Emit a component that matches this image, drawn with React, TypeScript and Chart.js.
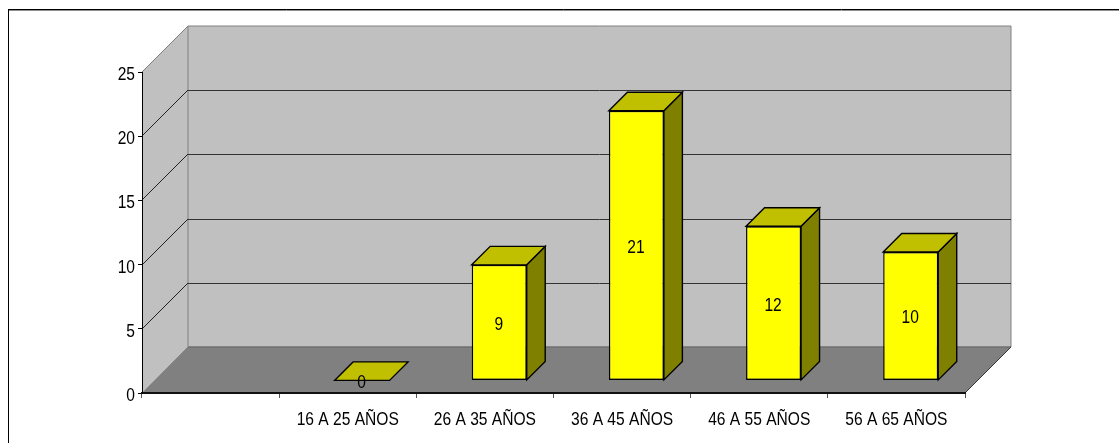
import React, { useEffect, useRef } from "react";
import { Chart, registerables } from "chart.js";

Chart.register(...registerables);

const categories = ["", "16 A 25 AÑOS", "26 A 35 AÑOS", "36 A 45 AÑOS", "46 A 55 AÑOS", "56 A 65 AÑOS"];
const values = [null, 0, 9, 21, 12, 10];
const yTicks = [0, 5, 10, 15, 20, 25];

const FONT = '"Liberation Sans", Arial, sans-serif';
const FONT_SIZE = 19;
const TEXT_SQUEEZE = 0.82;

// Box projection: the room recedes by WALL_DEPTH, bars stand BAR_INSET into it.
const WALL_DEPTH = 46;
const BAR_INSET_X = 14.3;
const BAR_INSET_Y = 12.6;
const BAR_DEPTH = 18.5;
const BAR_LINE = 1.4;

function polygon(ctx: CanvasRenderingContext2D, pts: number[][], fill: string | null, stroke: string | null, width = 1) {
  ctx.beginPath();
  pts.forEach(([x, y], i) => (i ? ctx.lineTo(x, y) : ctx.moveTo(x, y)));
  ctx.closePath();
  if (fill) {
    ctx.fillStyle = fill;
    ctx.fill();
  }
  if (stroke) {
    ctx.strokeStyle = stroke;
    ctx.lineWidth = width;
    ctx.stroke();
  }
}

function segment(ctx: CanvasRenderingContext2D, x1: number, y1: number, x2: number, y2: number, color: string, width = 1) {
  ctx.beginPath();
  ctx.moveTo(x1, y1);
  ctx.lineTo(x2, y2);
  ctx.strokeStyle = color;
  ctx.lineWidth = width;
  ctx.stroke();
}

// Arial Narrow is not available, so the regular face is squeezed horizontally.
function narrowText(ctx: CanvasRenderingContext2D, text: string, x: number, y: number, align: CanvasTextAlign) {
  ctx.save();
  ctx.translate(x, y);
  ctx.scale(TEXT_SQUEEZE, 1);
  ctx.fillStyle = "#000000";
  ctx.font = `${FONT_SIZE}px ${FONT}`;
  ctx.textAlign = align;
  ctx.textBaseline = "alphabetic";
  ctx.fillText(text, 0, 0);
  ctx.restore();
}

const roomPlugin = {
  id: "room",
  beforeDraw(chart: any) {
    const { ctx, chartArea: a, scales } = chart;
    const d = WALL_DEPTH;
    ctx.save();

    // Frame of the embedded chart object: only its top and left edges are in view.
    segment(ctx, 8.5, 9.5, chart.width, 9.5, "#000000");
    segment(ctx, 9, 10.5, chart.width, 10.5, "#909090");
    segment(ctx, 8.5, 9, 8.5, chart.height, "#000000");

    polygon(ctx, [[a.left, a.bottom], [a.left, a.top], [a.left + d, a.top - d], [a.left + d, a.bottom - d]], "#C0C0C0", null);
    polygon(ctx, [[a.left + d, a.bottom - d], [a.left + d, a.top - d], [a.right + d, a.top - d], [a.right + d, a.bottom - d]], "#C0C0C0", "#808080");
    polygon(ctx, [[a.left, a.bottom], [a.left + d, a.bottom - d], [a.right + d, a.bottom - d], [a.right, a.bottom]], "#808080", null);

    segment(ctx, a.left + d + 0.5, a.bottom - d, a.right + d, a.bottom - d, "#666666");
    segment(ctx, a.right, a.bottom, a.right + d, a.bottom - d, "#333333");
    segment(ctx, a.left, a.top, a.left + d, a.top - d, "#808080");
    segment(ctx, a.left + 0.5, a.bottom, a.left + d, a.bottom - d, "#808080");

    yTicks.forEach((t) => {
      if (t === 0 || t === 25) return;
      const y = Math.round(scales.y.getPixelForValue(t));
      segment(ctx, a.left, y, a.left + d, y - d, "#222222");
      segment(ctx, a.left + d, y - d + 0.5, a.right + d, y - d + 0.5, "#333333");
    });
    ctx.restore();
  },
  beforeDatasetDraw(chart: any) {
    const { ctx } = chart;
    const meta = chart.getDatasetMeta(0);
    ctx.save();
    ctx.translate(BAR_INSET_X, -BAR_INSET_Y);
    meta.data.forEach((bar: any, i: number) => {
      if (values[i] === null) return;
      const half = bar.width / 2;
      const l = bar.x - half;
      const r = bar.x + half;
      const t = bar.y;
      const b = bar.base;
      const k = BAR_DEPTH;
      if (b - t > 0) {
        polygon(ctx, [[r, t], [r + k, t - k], [r + k, b - k], [r, b]], "#808000", "#000000", BAR_LINE);
      }
      polygon(ctx, [[l, t], [l + k, t - k], [r + k, t - k], [r, t]], "#C0C000", "#000000", BAR_LINE);
    });
    // Left applied: the native bars are painted in this same shifted space.
  },
  afterDatasetDraw(chart: any) {
    const { ctx } = chart;
    ctx.restore();
  },
  afterDraw(chart: any) {
    const { ctx, chartArea: a, scales } = chart;
    const meta = chart.getDatasetMeta(0);

    meta.data.forEach((bar: any, i: number) => {
      if (values[i] === null) return;
      const x = bar.x + BAR_INSET_X - 0.5;
      const y = (bar.y + bar.base) / 2 - BAR_INSET_Y + 7.5;
      narrowText(ctx, String(values[i]), x, y, "center");
    });

    scales.x.ticks.forEach((tick: any, i: number) => {
      narrowText(ctx, String(categories[tick.value ?? i]), scales.x.getPixelForTick(i), a.bottom + 32, "center");
    });
    scales.y.ticks.forEach((tick: any, i: number) => {
      narrowText(ctx, String(tick.value), a.left - 7, scales.y.getPixelForTick(i) + 8, "right");
    });
  },
};

export default function App() {
  const ref = useRef<HTMLCanvasElement>(null);

  useEffect(() => {
    const chart = new Chart(ref.current!, {
      type: "bar",
      data: {
        labels: categories,
        datasets: [
          {
            data: values,
            backgroundColor: "#FFFF00",
            borderColor: "#000000",
            borderWidth: BAR_LINE,
            borderSkipped: false,
            categoryPercentage: 1,
            barPercentage: 0.401,
          },
        ],
      },
      options: {
        animation: false,
        responsive: false,
        devicePixelRatio: 1,
        layout: { padding: { left: 0, top: 72, right: 154, bottom: 0 } },
        plugins: { legend: { display: false }, tooltip: { enabled: false }, title: { display: false } },
        scales: {
          x: {
            afterFit: (s: any) => {
              s.height = 50;
            },
            grid: { drawOnChartArea: false, drawTicks: true, tickLength: 5, tickColor: "#555555", offset: true },
            border: { color: "#111111", width: 2 },
            ticks: { display: false, autoSkip: false, maxRotation: 0 },
          },
          y: {
            min: 0,
            max: 25,
            afterFit: (s: any) => {
              s.width = 142;
            },
            grid: { drawOnChartArea: false, drawTicks: true, tickLength: 4, tickColor: "#000000" },
            border: { color: "#000000", width: 1 },
            ticks: { display: false, stepSize: 5 },
          },
        },
      },
      plugins: [roomPlugin],
    } as any);
    return () => chart.destroy();
  }, []);

  return (
    <canvas
      ref={ref}
      width={1119}
      height={443}
      style={{ position: "fixed", left: 0, top: 0, display: "block" }}
    />
  );
}
